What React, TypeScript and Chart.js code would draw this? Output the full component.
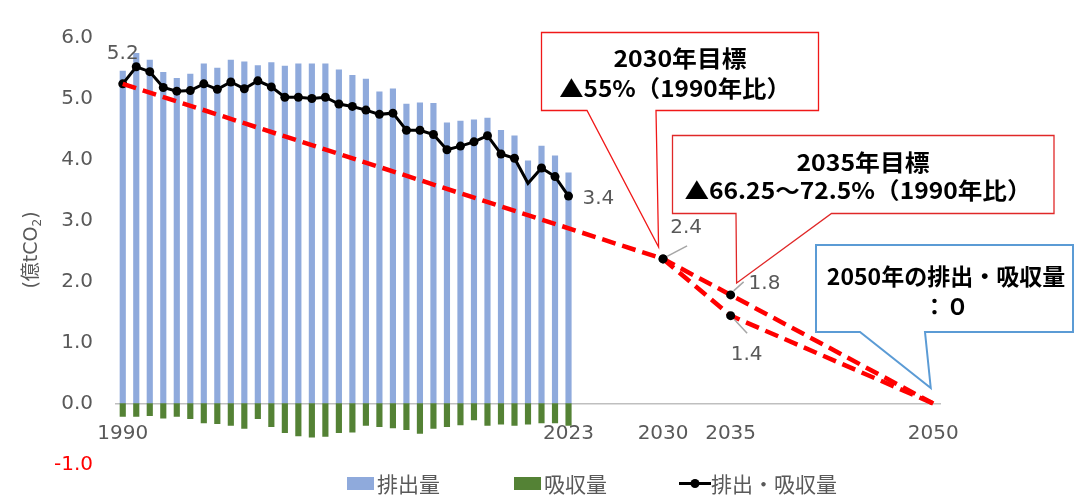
import React, { useEffect, useRef } from "react";
import { Chart, registerables } from "chart.js";

Chart.register(...registerables);

// ---------- data ----------
const years = [
  1990, 1991, 1992, 1993, 1994, 1995, 1996, 1997, 1998, 1999,
  2000, 2001, 2002, 2003, 2004, 2005, 2006, 2007, 2008, 2009,
  2010, 2011, 2012, 2013, 2014, 2015, 2016, 2017, 2018, 2019,
  2020, 2021, 2022, 2023,
];
const emissions = [
  5.45, 5.74, 5.63, 5.43, 5.33, 5.40, 5.57, 5.50, 5.63, 5.60,
  5.54, 5.59, 5.53, 5.57, 5.57, 5.57, 5.47, 5.38, 5.32, 5.11,
  5.16, 4.91, 4.93, 4.92, 4.60, 4.63, 4.65, 4.68, 4.48, 4.39,
  3.98, 4.22, 4.06, 3.78,
];
const absorption = [
  -0.21, -0.21, -0.20, -0.24, -0.21, -0.25, -0.32, -0.33, -0.36, -0.41,
  -0.25, -0.38, -0.48, -0.53, -0.55, -0.54, -0.48, -0.47, -0.36, -0.38,
  -0.40, -0.43, -0.49, -0.41, -0.38, -0.35, -0.27, -0.36, -0.34, -0.36,
  -0.34, -0.32, -0.32, -0.36,
];
const net = [
  5.24, 5.52, 5.44, 5.18, 5.12, 5.13, 5.24, 5.15, 5.27, 5.16,
  5.29, 5.19, 5.02, 5.02, 5.00, 5.02, 4.91, 4.87, 4.81, 4.74,
  4.76, 4.48, 4.48, 4.41, 4.16, 4.22, 4.29, 4.39, 4.09, 4.02,
  3.61, 3.86, 3.72, 3.40,
];
const netNoMarkerYears = [2020];

const targetYearsA = [1990, 2030, 2035, 2050];
const targetValuesA = [5.24, 2.37, 1.78, 0];
const targetYearsB = [2030, 2035, 2050];
const targetValuesB = [2.37, 1.44, 0];
const targetMarkerYears = [2030, 2035];

const xTickYears = [1990, 2023, 2030, 2035, 2050];

const legendLabels = ["排出量", "吸収量", "排出・吸収量"];
const yTitle = ["(億tCO", "2", ")"];
const callout2030 = ["2030年目標", "▲55%（1990年比）"];
const callout2035 = ["2035年目標", "▲66.25～72.5%（1990年比）"];
const callout2050 = ["2050年の排出・吸収量", "：０"];

// ---------- styles ----------
const NUM_FONT = '"DejaVu Sans", "Noto Sans CJK JP", sans-serif';
const CJK_FONT = '"Noto Sans CJK JP", "DejaVu Sans", sans-serif';
const GRAY = "#595959";
const BLUE = "#8FAADC";
const GREEN = "#548235";
const RED = "#FF0000";

function drawCallout(
  ctx: CanvasRenderingContext2D,
  l: number, t: number, r: number, b: number,
  baseL: number, baseR: number, tipX: number, tipY: number,
  stroke: string, lw: number
) {
  ctx.save();
  ctx.beginPath();
  ctx.moveTo(l, t);
  ctx.lineTo(r, t);
  ctx.lineTo(r, b);
  ctx.lineTo(baseR, b);
  ctx.lineTo(tipX, tipY);
  ctx.lineTo(baseL, b);
  ctx.lineTo(l, b);
  ctx.closePath();
  ctx.fillStyle = "#ffffff";
  ctx.fill();
  ctx.strokeStyle = stroke;
  ctx.lineWidth = lw;
  ctx.lineJoin = "miter";
  ctx.stroke();
  ctx.restore();
}

function fillScaled(ctx: CanvasRenderingContext2D, text: string, cx: number, cy: number, sx: number) {
  ctx.save();
  ctx.translate(cx, cy);
  ctx.scale(sx, 1);
  ctx.fillText(text, 0, 0);
  ctx.restore();
}

const overlayPlugin = {
  id: "overlay",
  afterDatasetsDraw(chart: any) {
    const ctx: CanvasRenderingContext2D = chart.ctx;
    const xs = chart.scales.x;
    const ys = chart.scales.y;
    const px = (v: number) => xs.getPixelForValue(v);
    const py = (v: number) => ys.getPixelForValue(v);
    ctx.save();
    ctx.font = `20px ${NUM_FONT}`;
    ctx.fillStyle = GRAY;
    ctx.textBaseline = "middle";

    // 1990 net label
    ctx.textAlign = "center";
    ctx.fillText(net[0].toFixed(1), px(years[0]), py(net[0]) - 30);
    // 2023 net label
    const li = net.length - 1;
    ctx.textAlign = "left";
    ctx.fillText(net[li].toFixed(1), px(years[li]) + 14, py(net[li]) + 3);

    ctx.strokeStyle = "#A6A6A6";
    ctx.lineWidth = 1.5;
    // 2030
    {
      const x = px(targetYearsA[1]);
      const y = py(targetValuesA[1]);
      ctx.beginPath();
      ctx.moveTo(x + 4, y - 2.5);
      ctx.lineTo(x + 24, y - 13);
      ctx.stroke();
      ctx.textAlign = "center";
      ctx.fillText(targetValuesA[1].toFixed(1), x + 23, y - 31);
    }
    // 2035 upper
    {
      const x = px(targetYearsA[2]);
      const y = py(targetValuesA[2]);
      ctx.beginPath();
      ctx.moveTo(x + 3, y - 4);
      ctx.lineTo(x + 13, y - 13);
      ctx.stroke();
      ctx.textAlign = "left";
      ctx.fillText(targetValuesA[2].toFixed(1), x + 18, y - 11);
    }
    // 2035 lower
    {
      const x = px(targetYearsB[1]);
      const y = py(targetValuesB[1]);
      ctx.beginPath();
      ctx.moveTo(x + 3.5, y + 3.5);
      ctx.lineTo(x + 16.5, y + 17.5);
      ctx.stroke();
      ctx.textAlign = "center";
      ctx.fillText(targetValuesB[1].toFixed(1), x + 16, y + 39);
    }
    ctx.restore();
  },
  afterDraw(chart: any) {
    const ctx: CanvasRenderingContext2D = chart.ctx;
    const xs = chart.scales.x;
    const ys = chart.scales.y;
    const px = (v: number) => xs.getPixelForValue(v);
    const py = (v: number) => ys.getPixelForValue(v);

    // ---- callouts ----
    const x2030 = px(2030);
    const y2030 = py(targetValuesA[1]);
    drawCallout(ctx, 541.5, 32.5, 818.5, 110.5, 587, 656, x2030 - 4.5, y2030 - 12, "#F01818", 1.3);
    const x2035 = px(2035);
    const y2035 = py(targetValuesA[2]);
    drawCallout(ctx, 672.5, 135.5, 1054, 213.5, 736, 831.5, x2035 + 6, y2035 - 12, "#E02828", 1.3);
    const x2050 = px(2050);
    const y2050 = py(0);
    drawCallout(ctx, 816, 245, 1073, 332, 860, 925, x2050 - 2.5, y2050 - 15.5, "#5B9BD5", 2);

    ctx.save();
    ctx.fillStyle = "#000000";
    ctx.textAlign = "center";
    ctx.textBaseline = "middle";
    ctx.font = `bold 23px ${CJK_FONT}`;
    fillScaled(ctx, callout2030[0], 680, 58, 1.08);
    fillScaled(ctx, callout2030[1], 675, 88, 1.06);
    fillScaled(ctx, callout2035[0], 863, 162, 1.08);
    fillScaled(ctx, callout2035[1], 858, 190, 1.07);
    fillScaled(ctx, callout2050[0], 946, 276, 1.0);
    fillScaled(ctx, callout2050[1], 946, 306, 1.0);
    ctx.restore();

    // ---- y axis title ----
    ctx.save();
    ctx.translate(32, 250);
    ctx.rotate(-Math.PI / 2);
    ctx.fillStyle = GRAY;
    ctx.textBaseline = "middle";
    ctx.textAlign = "left";
    const mainFont = `19px ${NUM_FONT}`;
    const subFont = `12px ${NUM_FONT}`;
    ctx.font = mainFont;
    const w1 = ctx.measureText(yTitle[0]).width;
    const w3 = ctx.measureText(yTitle[2]).width;
    ctx.font = subFont;
    const w2 = ctx.measureText(yTitle[1]).width;
    let cx = -(w1 + w2 + w3) / 2;
    ctx.font = mainFont;
    ctx.fillText(yTitle[0], cx, 0);
    cx += w1;
    ctx.font = subFont;
    ctx.fillText(yTitle[1], cx, 6);
    cx += w2;
    ctx.font = mainFont;
    ctx.fillText(yTitle[2], cx, 0);
    ctx.restore();

    // ---- legend ----
    ctx.save();
    ctx.font = `21px ${CJK_FONT}`;
    ctx.fillStyle = GRAY;
    ctx.textBaseline = "middle";
    ctx.textAlign = "left";
    const ly = 484;
    ctx.fillStyle = BLUE;
    ctx.fillRect(347, 477, 27, 13);
    ctx.fillStyle = GRAY;
    ctx.fillText(legendLabels[0], 377, ly);
    ctx.fillStyle = GREEN;
    ctx.fillRect(514, 477, 27, 13);
    ctx.fillStyle = GRAY;
    ctx.fillText(legendLabels[1], 544, ly);
    ctx.strokeStyle = "#000";
    ctx.lineWidth = 3;
    ctx.beginPath();
    ctx.moveTo(679, 483.5);
    ctx.lineTo(711, 483.5);
    ctx.stroke();
    ctx.fillStyle = "#000";
    ctx.beginPath();
    ctx.arc(695, 483.5, 4.5, 0, Math.PI * 2);
    ctx.fill();
    ctx.fillStyle = GRAY;
    ctx.fillText(legendLabels[2], 711, ly);
    ctx.restore();
  },
};

export default function App() {
  const canvasRef = useRef<HTMLCanvasElement | null>(null);

  useEffect(() => {
    const canvas = canvasRef.current;
    if (!canvas) return;
    const chart = new Chart(canvas, {
      type: "bar",
      data: {
        datasets: [
          {
            type: "line",
            label: "目標A",
            data: targetYearsA.map((x, i) => ({ x, y: targetValuesA[i] })),
            borderColor: RED,
            borderWidth: 4.5,
            borderDash: [14, 7],
            pointRadius: targetYearsA.map((y) => (targetMarkerYears.includes(y) ? 4.5 : 0)),
            pointBackgroundColor: "#000",
            pointBorderColor: "#000",
            pointBorderWidth: 0,
            tension: 0,
            order: 0,
          } as any,
          {
            type: "line",
            label: "目標B",
            data: targetYearsB.map((x, i) => ({ x, y: targetValuesB[i] })),
            borderColor: RED,
            borderWidth: 4.5,
            borderDash: [14, 7],
            pointRadius: targetYearsB.map((y) => (targetMarkerYears.includes(y) ? 4.5 : 0)),
            pointBackgroundColor: "#000",
            pointBorderColor: "#000",
            pointBorderWidth: 0,
            tension: 0,
            order: 0,
          } as any,
          {
            type: "line",
            label: legendLabels[2],
            data: years.map((x, i) => ({ x, y: net[i] })),
            borderColor: "#000",
            borderWidth: 3,
            pointRadius: years.map((y) => (netNoMarkerYears.includes(y) ? 0 : 4.5)),
            pointBackgroundColor: "#000",
            pointBorderColor: "#000",
            pointBorderWidth: 0,
            tension: 0,
            order: 1,
          } as any,
          {
            type: "bar",
            label: legendLabels[1],
            data: years.map((x, i) => ({ x, y: absorption[i] })),
            backgroundColor: GREEN,
            barThickness: 5.5,
            grouped: false,
            order: 2,
          } as any,
          {
            type: "bar",
            label: legendLabels[0],
            data: years.map((x, i) => ({ x, y: emissions[i] })),
            backgroundColor: BLUE,
            barThickness: 5.5,
            grouped: false,
            order: 3,
          } as any,
        ],
      },
      options: {
        responsive: false,
        animation: false,
        devicePixelRatio: 1,
        layout: { padding: { left: 0, right: 135, top: 37.5, bottom: 36.5 } },
        plugins: {
          legend: { display: false },
          tooltip: { enabled: false },
          title: { display: false },
        },
        scales: {
          x: {
            type: "linear",
            min: 1989.5,
            max: 2050.5,
            offset: false,
            position: { y: 0 },
            grid: { display: false, drawTicks: false },
            border: { display: true, color: "#BFBFBF", width: 1.5 },
            afterBuildTicks: (scale: any) => {
              scale.ticks = xTickYears.map((v) => ({ value: v }));
            },
            afterFit: (scale: any) => {
              scale.paddingLeft = 0;
              scale.paddingRight = 0;
            },
            ticks: {
              autoSkip: false,
              maxRotation: 0,
              minRotation: 0,
              padding: 18,
              color: GRAY,
              font: { family: NUM_FONT, size: 20 },
              callback: (v: any) => String(v),
            },
          } as any,
          y: {
            type: "linear",
            min: -1,
            max: 6,
            grid: { display: false, drawTicks: false },
            border: { display: false },
            afterFit: (scale: any) => {
              scale.width = 116;
              scale.paddingTop = 0;
              scale.paddingBottom = 0;
            },
            ticks: {
              stepSize: 1,
              padding: 23,
              color: (c: any) => (c.tick && c.tick.value < 0 ? RED : GRAY),
              font: { family: NUM_FONT, size: 20 },
              callback: (v: any) => Number(v).toFixed(1),
            },
          } as any,
        },
      },
      plugins: [overlayPlugin],
    } as any);
    return () => chart.destroy();
  }, []);

  return (
    <div style={{ position: "absolute", left: 0, top: 0, width: 1075, height: 501, background: "#fff" }}>
      <canvas ref={canvasRef} width={1075} height={501} style={{ display: "block", width: 1075, height: 501 }} />
    </div>
  );
}
